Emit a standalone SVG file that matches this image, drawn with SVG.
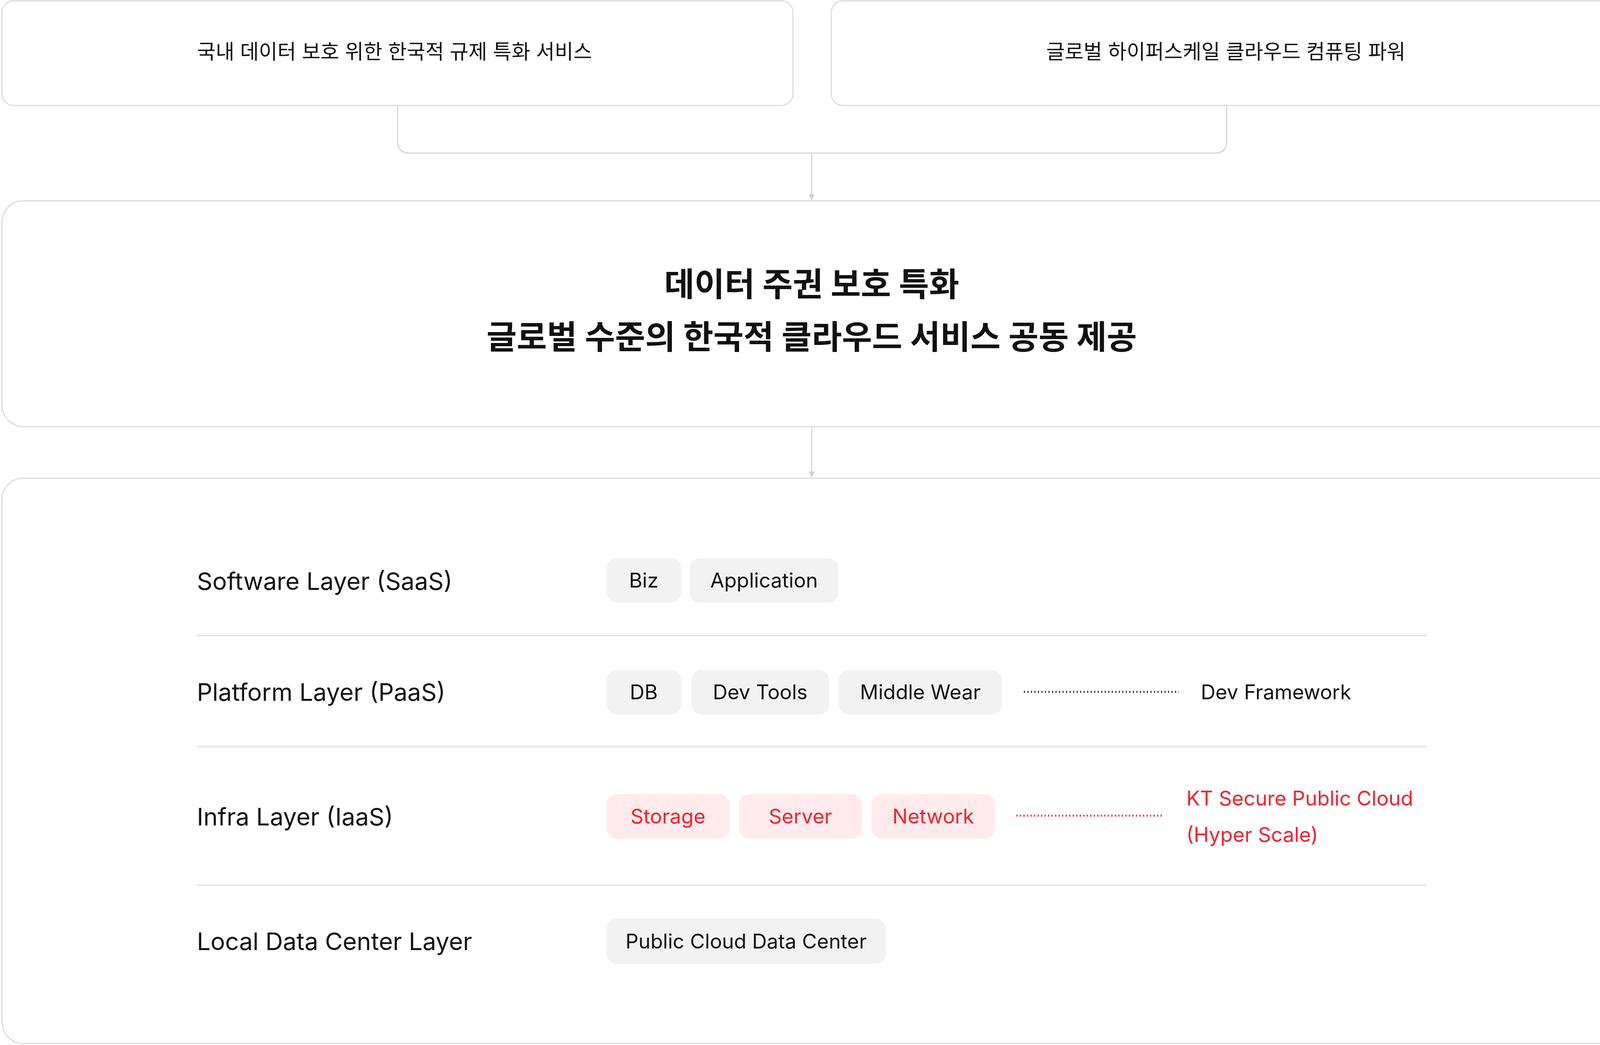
<svg xmlns="http://www.w3.org/2000/svg" width="4156" height="2675" viewBox="0 0 4156 2675">
<defs>
<style>
.box{fill:#fff;stroke:#dcdcdc;stroke-width:3}
.t{font-family:Inter,"Noto Sans CJK KR",sans-serif;fill:#111}
.chip{fill:#f2f2f2}
.rchip{fill:#ffebed}
.ct{font-family:Inter,"Noto Sans CJK KR",sans-serif;font-size:52px;fill:#111;text-anchor:middle}
.rt{font-family:Inter,"Noto Sans CJK KR",sans-serif;font-size:52px;fill:#f5222d}
.lay{font-family:Inter,"Noto Sans CJK KR",sans-serif;font-size:62px;fill:#111}
.div{stroke:#e6e6e6;stroke-width:4}
.con{fill:none;stroke:#d6d6d6;stroke-width:3}
</style>
<marker id="ah" viewBox="0 0 10 10" refX="10" refY="5" markerWidth="5" markerHeight="5" orient="auto"><path d="M0,0L10,5L0,10z" fill="#cfcfcf"/></marker>
</defs>
<rect width="4156" height="2675" fill="#fff"/>
<g id="connectors">
<path class="con" d="M1018,270V362Q1018,392 1048,392H3110Q3140,392 3140,362V270"/>
<line class="con" x1="2078" y1="392" x2="2078" y2="512" marker-end="url(#ah)"/>
<line class="con" x1="2078" y1="1092" x2="2078" y2="1222" marker-end="url(#ah)"/>
</g>
<g id="n1"><rect class="box" x="5" y="2" width="2025" height="268" rx="30"/>
<text class="t" x="1010" y="151" font-size="52" text-anchor="middle">국내 데이터 보호 위한 한국적 규제 특화 서비스</text></g>
<g id="n2"><rect class="box" x="2128" y="2" width="2022" height="268" rx="30"/>
<text class="t" x="3138" y="151" font-size="52" text-anchor="middle">글로벌 하이퍼스케일 클라우드 컴퓨팅 파워</text></g>
<g id="n3"><rect class="box" x="5" y="514" width="4145" height="578" rx="55"/>
<text class="t" x="2078" y="758" font-size="84" font-weight="bold" text-anchor="middle">데이터 주권 보호 특화</text>
<text class="t" x="2078" y="893" font-size="84" font-weight="bold" text-anchor="middle">글로벌 수준의 한국적 클라우드 서비스 공동 제공</text></g>
<g id="n4"><rect class="box" x="5" y="1224" width="4145" height="1447" rx="55"/>
<line class="div" x1="504" y1="1627" x2="3652" y2="1627"/>
<line class="div" x1="504" y1="1911" x2="3652" y2="1911"/>
<line class="div" x1="504" y1="2266" x2="3652" y2="2266"/>
<text class="lay" x="504" y="1510">Software Layer (SaaS)</text>
<text class="lay" x="504" y="1794">Platform Layer (PaaS)</text>
<text class="lay" x="504" y="2113">Infra Layer (IaaS)</text>
<text class="lay" x="504" y="2432">Local Data Center Layer</text>
<rect class="chip" x="1553" y="1429" width="191" height="113" rx="26"/><text class="ct" x="1648" y="1504">Biz</text>
<rect class="chip" x="1765" y="1429" width="382" height="113" rx="26"/><text class="ct" x="1956" y="1504">Application</text>
<rect class="chip" x="1553" y="1715" width="191" height="114" rx="26"/><text class="ct" x="1648" y="1790">DB</text>
<rect class="chip" x="1770" y="1715" width="353" height="114" rx="26"/><text class="ct" x="1946" y="1790">Dev Tools</text>
<rect class="chip" x="2147" y="1715" width="418" height="114" rx="26"/><text class="ct" x="2356" y="1790">Middle Wear</text>
<line x1="2621" y1="1771" x2="3018" y2="1771" stroke="#333" stroke-width="5" stroke-dasharray="3,6"/>
<text class="t" x="3074" y="1790" font-size="52">Dev Framework</text>
<rect class="rchip" x="1553" y="2033" width="315" height="114" rx="26"/><text class="ct" x="1710" y="2108" fill="#f5222d" style="fill:#f5222d">Storage</text>
<rect class="rchip" x="1892" y="2033" width="315" height="114" rx="26"/><text class="ct" x="2049" y="2108" style="fill:#f5222d">Server</text>
<rect class="rchip" x="2231" y="2033" width="316" height="114" rx="26"/><text class="ct" x="2389" y="2108" style="fill:#f5222d">Network</text>
<line x1="2602" y1="2088" x2="2979" y2="2088" stroke="#f5222d" stroke-width="5" stroke-dasharray="3,6"/>
<text class="rt" x="3037" y="2062">KT Secure Public Cloud</text>
<text class="rt" x="3037" y="2155">(Hyper Scale)</text>
<rect class="chip" x="1553" y="2351" width="715" height="116" rx="26"/><text class="ct" x="1910" y="2428">Public Cloud Data Center</text>
</g>
</svg>
